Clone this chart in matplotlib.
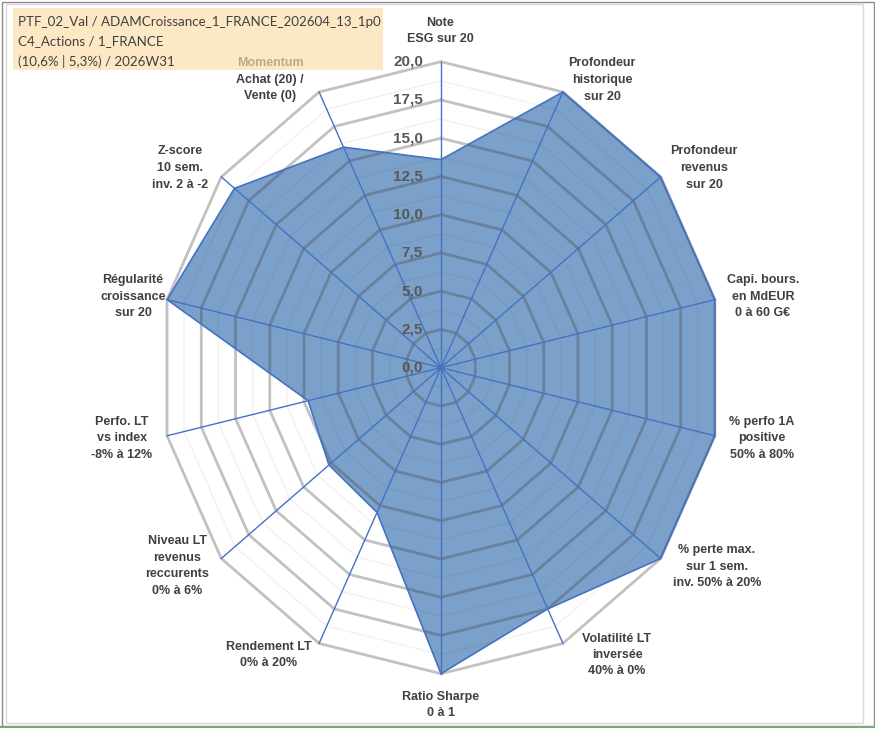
import numpy as np
import matplotlib
matplotlib.use("Agg")
import matplotlib.pyplot as plt
from matplotlib.patches import Rectangle
from matplotlib.lines import Line2D

# Axes of the radar, clockwise from the top
categories = [
    "Note\nESG sur 20",
    "Profondeur\nhistorique\nsur 20",
    "Profondeur\nrevenus\nsur 20",
    "Capi. bours.\nen MdEUR\n0 à 60 G€",
    "% perfo 1A\npositive\n50% à 80%",
    "% perte max.\nsur 1 sem.\ninv. 50% à 20%",
    "Volatilité LT\ninversée\n40% à 0%",
    "Ratio Sharpe\n0 à 1",
    "Rendement LT\n0% à 20%",
    "Niveau LT\nrevenus\nreccurents\n0% à 6%",
    "Perfo. LT\nvs index\n-8% à 12%",
    "Régularité\ncroissance\nsur 20",
    "Z-score\n10 sem.\ninv. 2 à -2",
    "Momentum\nAchat (20) /\nVente (0)",
]
scores = [13.6, 20.0, 20.0, 20.0, 20.0, 20.0, 17.5, 20.0, 10.5, 10.2, 9.7, 20.0, 18.8, 16.0]

major_ticks = [0.0, 2.5, 5.0, 7.5, 10.0, 12.5, 15.0, 17.5, 20.0]
tick_labels = ["0,0", "2,5", "5,0", "7,5", "10,0", "12,5", "15,0", "17,5", "20,0"]
minor_ticks = [1.25, 3.75, 6.25, 8.75, 11.25, 13.75, 16.25, 18.75]

title_lines = ["PTF_02_Val / ADAMCroissance_1_FRANCE_202604_13_1p0",
               "C4_Actions / 1_FRANCE",
               "(10,6% | 5,3%) / 2026W31"]

# label centres in pixels (layout only)
label_pos = [(440, 31), (602, 80), (704, 168), (763, 297), (762, 438), (717, 567),
             (617, 655), (441, 705), (269, 655), (177, 566), (122, 438), (133, 297),
             (180, 168), (270, 80)]
title_y = [22, 41, 61]

W, H = 875, 729
FILL = "#7ba0c9"
BLUE = "#4472c4"

fig = plt.figure(figsize=(W / 100, H / 100), dpi=100)
ax = fig.add_axes([0, 0, 1, 1])
# centre of the web at (441, 367.7) px; 14.05 px/unit across, 15.3 px/unit down
ax.set_xlim(-441 / 14.05, (W - 441) / 14.05)
ax.set_ylim(-(H - 367.7) / 15.3, 367.7 / 15.3)
ax.axis("off")

n = len(categories)
theta = np.arange(n) * 2 * np.pi / n
ring_t = np.append(theta, theta[0])

def ring(r):
    return r * np.sin(ring_t), r * np.cos(ring_t)

vals = np.append(scores, scores[0])
vx, vy = vals * np.sin(ring_t), vals * np.cos(ring_t)
ax.fill(vx, vy, color=FILL, lw=0, zorder=2)

for r in minor_ticks:
    x, y = ring(r)
    ax.plot(x, y, color="#404040", alpha=0.07, lw=1, zorder=3)
for r in major_ticks[1:]:
    x, y = ring(r)
    ax.plot(x, y, color="#404040", alpha=0.32, lw=2, zorder=3)

for t in theta:
    ax.plot([0, 20 * np.sin(t)], [0, 20 * np.cos(t)], color=BLUE, lw=1, zorder=4)

ax.plot(vx, vy, color=BLUE, lw=1.2, zorder=5)

for r, lab in zip(major_ticks, tick_labels):
    ax.annotate(lab, xy=(0, r), xytext=(-18, 0), textcoords="offset pixels",
                ha="right", va="center", fontsize=11, fontweight="bold",
                color="#595959", family="Liberation Sans", zorder=6)

for lab, (px, py) in zip(categories, label_pos):
    fig.text(px / W, 1 - py / H, lab, ha="center", va="center", fontsize=9,
             fontweight="bold", color="#404040", family="Liberation Sans",
             linespacing=1.5, zorder=3)

# title box (semi-transparent, sits over the Momentum label)
fig.add_artist(Rectangle((13 / W, 1 - 70 / H), 370 / W, 62 / H, transform=fig.transFigure,
                         facecolor=(251 / 255, 222 / 255, 169 / 255), alpha=0.67,
                         edgecolor="none", zorder=4))
for line, py in zip(title_lines, title_y):
    fig.text(18 / W, 1 - py / H, line, ha="left", va="center", fontsize=9.6,
             color="#404040", family="Lato", zorder=5)

# chart frame
fig.add_artist(Rectangle((6 / W, 1 - 723 / H), 857 / W, 719 / H, transform=fig.transFigure,
                         facecolor="none", edgecolor="#d9d9d9", lw=1, zorder=1))
fig.add_artist(Rectangle((1.5 / W, 1 - 726 / H), 872 / W, 724.5 / H, transform=fig.transFigure,
                         facecolor="none", edgecolor="#8c8c8c", lw=1, zorder=1))
fig.add_artist(Line2D([0, 1], [1 - 727 / H] * 2, transform=fig.transFigure,
                      color="#7fa87f", lw=1.5, zorder=1))

fig.savefig("out.png", dpi=100)
